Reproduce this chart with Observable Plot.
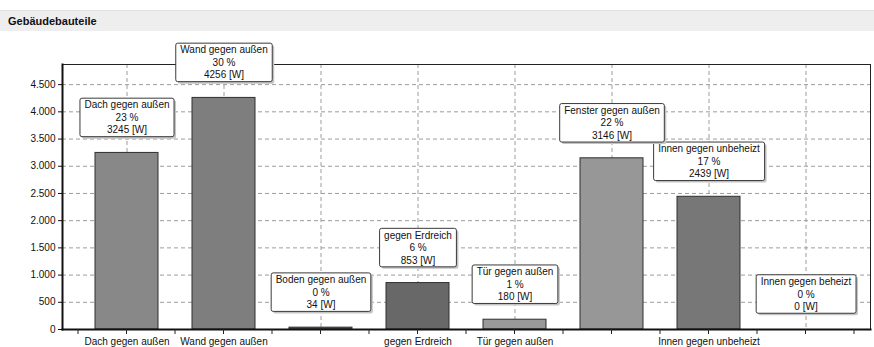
<!DOCTYPE html>
<html>
<head>
<meta charset="utf-8">
<script src="https://cdn.jsdelivr.net/npm/d3@7"></script>
<script src="https://cdn.jsdelivr.net/npm/@observablehq/plot@0.6"></script>
<style>
  body { margin: 0; background: #fff; font-family: "Liberation Sans", Arial, sans-serif; }
  #head {
    margin-top: 10px; height: 20px; line-height: 20px;
    background: #eeeeee; border-top: 1px solid #e2e2e2;
    font-size: 11px; font-weight: bold; color: #111; padding-left: 8px;
  }
  #chart svg { display: block; overflow: visible; }
</style>
</head>
<body>
<div id="head">Gebäudebauteile</div>
<div id="chart"></div>
<script>
// Heat loss per building component
const categories = [
  "Dach gegen außen", "Wand gegen außen", "Boden gegen außen", "gegen Erdreich",
  "Tür gegen außen", "Fenster gegen außen", "Innen gegen unbeheizt", "Innen gegen beheizt"
];
const watts    = [3245, 4256, 34, 853, 180, 3146, 2439, 0];
const percents = [23, 30, 0, 6, 1, 22, 17, 0];
const fills    = ["#888888", "#7e7e7e", "#555555", "#686868", "#999999", "#979797", "#777777", "#808080"];
// category labels printed under the axis (the others do not fit)
const tickLabels = ["Dach gegen außen", "Wand gegen außen", "", "gegen Erdreich",
                    "Tür gegen außen", "", "Innen gegen unbeheizt", ""];
const yTicks = [0, 500, 1000, 1500, 2000, 2500, 3000, 3500, 4000, 4500];

const data = categories.map((c, i) => ({cat: c, w: watts[i], pct: percents[i], fill: fills[i]}));
const de = d3.formatLocale({decimal: ",", thousands: ".", grouping: [3], currency: ["", " €"]});
const fmt = de.format(",");

// ticks under the category axis at band centres and band boundaries
function categoryTicks(index, scales, values, dims) {
  const x = scales.x;
  const bw = x.bandwidth(), step = x.step();
  const y0 = dims.height - dims.marginBottom;
  const g = d3.create("svg:g").attr("stroke", "#222");
  const pos = [];
  categories.forEach(c => { const m = x(c) + bw / 2; pos.push(m - step / 2, m); });
  pos.push(x(categories[categories.length - 1]) + bw / 2 + step / 2);
  for (const p of pos) {
    g.append("line").attr("x1", p).attr("x2", p).attr("y1", y0).attr("y2", y0 + 5);
  }
  return g.node();
}

const chart = Plot.plot({
  width: 874,
  height: 316,
  marginLeft: 62,
  marginRight: 4,
  marginTop: 33,
  marginBottom: 18,
  style: {fontFamily: "'Liberation Sans', Arial, sans-serif", fontSize: "10px", color: "#111", background: "#fff"},
  x: {domain: categories, paddingInner: 0.353, paddingOuter: 0.323},
  y: {domain: [0, 4870]},
  marks: [
    Plot.gridY(yTicks, {stroke: "#9c9c9c", strokeOpacity: 1, strokeDasharray: "4,3"}),
    Plot.gridX(categories, {stroke: "#9c9c9c", strokeOpacity: 1, strokeDasharray: "4,3"}),
    Plot.barY(data, {x: "cat", y: "w", fill: "fill", stroke: "#2e2e2e", strokeWidth: 1}),
    Plot.frame({stroke: "#222", strokeWidth: 1}),
    Plot.frame({anchor: "left", stroke: "#111", strokeWidth: 2}),
    Plot.frame({anchor: "bottom", stroke: "#111", strokeWidth: 2}),
    Plot.axisY(yTicks, {tickFormat: fmt, tickSize: 4, tickPadding: 3, fontSize: 10, label: null}),
    Plot.axisX({tickFormat: d => tickLabels[categories.indexOf(d)], tickSize: 0, tickPadding: 8, fontSize: 10, label: null}),
    categoryTicks,
    Plot.text(data, {
      x: "cat", y: "w",
      text: d => `${d.cat}\n${d.pct} %\n${d.w} [W]`,
      lineAnchor: "bottom", dy: -19.5, fontSize: 10, lineHeight: 1.25, fill: "#111",
      render(index, scales, values, dims, context, next) {
        const g = next(index, scales, values, dims, context);
        g.setAttribute("class", "callouts");
        return g;
      }
    })
  ]
});

document.getElementById("chart").append(chart);

// framed callout boxes behind each value label
const SVGNS = "http://www.w3.org/2000/svg";
const layer = chart.querySelector("g.callouts");
const texts = Array.from(layer.querySelectorAll("text"));
const boxes = texts.map(t => ({b: t.getBBox(), tr: t.getAttribute("transform")}));
boxes.forEach(({b, tr}) => {
  const x = b.x - 4.5, y = b.y - 1.25, w = b.width + 9, h = b.height + 2.5;
  const shadow = document.createElementNS(SVGNS, "rect");
  shadow.setAttribute("x", x + 2); shadow.setAttribute("y", y + 2);
  shadow.setAttribute("width", w); shadow.setAttribute("height", h);
  shadow.setAttribute("rx", 2); shadow.setAttribute("fill", "#c4c4c4");
  const box = document.createElementNS(SVGNS, "rect");
  box.setAttribute("x", x); box.setAttribute("y", y);
  box.setAttribute("width", w); box.setAttribute("height", h);
  box.setAttribute("rx", 2); box.setAttribute("fill", "#fff");
  box.setAttribute("stroke", "#3a3a3a"); box.setAttribute("stroke-width", 1);
  if (tr) { shadow.setAttribute("transform", tr); box.setAttribute("transform", tr); }
  layer.insertBefore(box, layer.firstChild);
  layer.insertBefore(shadow, layer.firstChild);
});
</script>
</body>
</html>
